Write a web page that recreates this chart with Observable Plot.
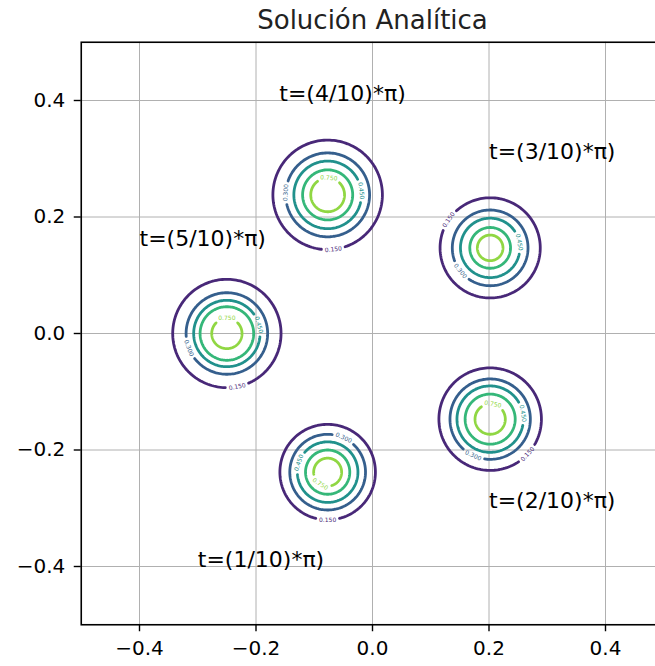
<!DOCTYPE html>
<html><head><meta charset="utf-8">
<script src="https://cdn.jsdelivr.net/npm/d3@7"></script>
<script src="https://cdn.jsdelivr.net/npm/@observablehq/plot@0.6"></script>
<style>html,body{margin:0;padding:0;overflow:hidden;background:#fff;}</style>
</head><body><div id="chart"></div>
<script>
// ---- data ----
const title = "Solución Analítica";
const timeLabels = ["t=(1/10)*π)", "t=(2/10)*π)", "t=(3/10)*π)", "t=(4/10)*π)", "t=(5/10)*π)"];
const timeLabelX = [-0.3, 0.2, 0.2, -0.16, -0.4];
const timeLabelY = [-0.4, -0.3, 0.3, 0.4, 0.15];
const centerX = [-0.077, 0.202, 0.202, -0.077, -0.25];
const centerY = [-0.238, -0.147, 0.147, 0.238, 0.0];
const levels = [0.15, 0.30, 0.45, 0.60, 0.75];
const levelLabels = ["0.150", "0.300", "0.450", "0.600", "0.750"];
// contour radii (data units) per snapshot, outer -> inner
const radiiT1 = [0.082, 0.065, 0.052, 0.038, 0.024];
const radiiT2 = [0.088, 0.069, 0.057, 0.043, 0.026];
const radiiT3 = [0.086, 0.065, 0.051, 0.035, 0.022];
const radiiT4 = [0.094, 0.072, 0.058, 0.043, 0.029];
const radiiT5 = [0.093, 0.070, 0.057, 0.046, 0.026];
// angle (degrees) where the inline label sits on each contour (null = no label)
const gapT1 = [-90, 65, 162, null, -122];
const gapT2 = [-43, -115, 10, null, 80];
const gapT3 = [146, -142, 11, null, null];
const gapT4 = [-84, 177, 7, null, 86];
const gapT5 = [-79, -159, 15, null, 90];
const xTicks = [-0.4, -0.2, 0.0, 0.2, 0.4];
const yTicks = [-0.4, -0.2, 0.0, 0.2, 0.4];

// ---- styles / layout ----
const levelColors = ["#482878", "#355f8d", "#21918c", "#35b779", "#90d743"];
const W = 665, H = 666, ML = 80.75, MR = 1.75, MT = 41.75, MB = 41.75;
const pxPerUnit = W - ML - MR;
const labelArcPx = 24;

const radii = [radiiT1, radiiT2, radiiT3, radiiT4, radiiT5];
const gaps = [gapT1, gapT2, gapT3, gapT4, gapT5];

const ringPts = [];
const ringLabels = [];
centerX.forEach((cx, b) => {
  const cy = centerY[b];
  levels.forEach((lv, k) => {
    const r = radii[b][k];
    const g = gaps[b][k];
    const id = b * 10 + k;
    let a0, a1;
    if (g == null) { a0 = 0; a1 = 2 * Math.PI; }
    else {
      const half = (labelArcPx / 2) / (r * pxPerUnit);
      const gr = g * Math.PI / 180;
      a0 = gr + half; a1 = gr + 2 * Math.PI - half;
      let rot = 90 - g;
      while (rot > 90) rot -= 180;
      while (rot <= -90) rot += 180;
      ringLabels.push({x: cx + r * Math.cos(gr), y: cy + r * Math.sin(gr), text: levelLabels[k], level: k, rotate: rot});
    }
    const n = 160;
    for (let i = 0; i <= n; i++) {
      const a = a0 + (a1 - a0) * i / n;
      ringPts.push({x: cx + r * Math.cos(a), y: cy + r * Math.sin(a), ring: id, level: k});
    }
  });
});

const timeData = timeLabels.map((t, i) => ({text: t, x: timeLabelX[i], y: timeLabelY[i]}));
const fmt = d => d3.format(".1f")(d);

const chart = Plot.plot({
  width: W, height: H,
  marginLeft: ML, marginRight: MR, marginTop: MT, marginBottom: MB,
  style: {fontFamily: "DejaVu Sans", fontSize: "20px", color: "black", background: "white", maxWidth: "none"},
  x: {domain: [-0.5, 0.5]},
  y: {domain: [-0.5, 0.5]},
  color: {type: "ordinal", domain: [0, 1, 2, 3, 4], range: levelColors},
  marks: [
    Plot.gridX(xTicks, {stroke: "#b0b0b0", strokeOpacity: 1, strokeWidth: 1}),
    Plot.gridY(yTicks, {stroke: "#b0b0b0", strokeOpacity: 1, strokeWidth: 1}),
    Plot.line(ringPts, {x: "x", y: "y", z: "ring", stroke: "level", strokeWidth: 2.8, curve: "linear"}),
    Plot.text(ringLabels, {x: "x", y: "y", text: "text", rotate: "rotate", fill: "level", fontSize: 6}),
    Plot.text(timeData, {x: "x", y: "y", text: "text", textAnchor: "start", lineAnchor: "bottom", fontSize: 22, fill: "black"}),
    Plot.frame({stroke: "black", strokeWidth: 1.6}),
    Plot.axisX(xTicks, {tickFormat: fmt, tickSize: 7, tickPadding: 9, fontSize: 20, strokeWidth: 1.4, label: null}),
    Plot.axisY(yTicks, {tickFormat: fmt, tickSize: 7, tickPadding: 9, fontSize: 20, strokeWidth: 1.4, label: null}),
    Plot.text([title], {frameAnchor: "top", dy: -13, lineAnchor: "bottom", fontSize: 26, fill: "#222"})
  ]
});
document.getElementById("chart").appendChild(chart);
</script>
</body></html>
